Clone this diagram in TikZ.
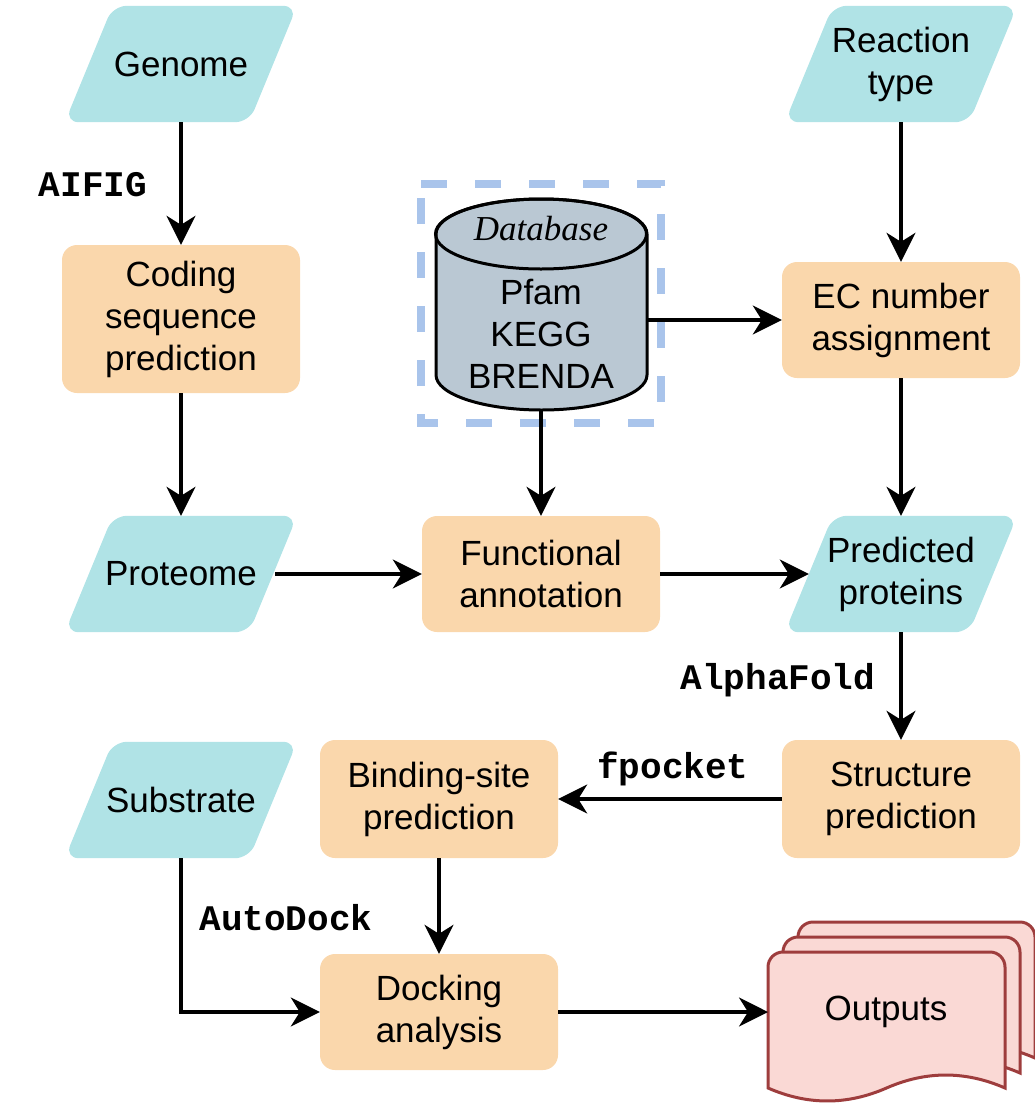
\documentclass[tikz,border=0pt]{standalone}
\usepackage{fontspec}
\setmainfont{Liberation Sans}
\newfontfamily\monob{Liberation Mono}
\newfontfamily\serifit{Liberation Serif}
\usetikzlibrary{arrows.meta,calc,backgrounds}
\definecolor{cyanf}{HTML}{B0E3E6}
\definecolor{orangef}{HTML}{FAD7AC}
\definecolor{dbf}{HTML}{BAC8D3}
\definecolor{dashc}{HTML}{A9C4EB}
\definecolor{outf}{HTML}{FAD9D5}
\definecolor{outd}{HTML}{9E3D3D}
\newcommand\outdoc[2]{%
\filldraw[docst] (#1,#2+136) -- (#1,#2+15) arc[start angle=180,end angle=90,radius=15pt] -- (#1+222,#2) arc[start angle=90,end angle=0,radius=15pt] -- (#1+237,#2+136) .. controls (#1+197.5,#2+118.7) and (#1+158,#2+118.7) .. (#1+118.5,#2+136) .. controls (#1+79,#2+153.3) and (#1+39.5,#2+153.3) .. (#1,#2+136) -- cycle;}
\begin{document}
\begin{tikzpicture}[x=1pt,y=-1pt,
  every node/.style={font=\fontsize{35}{42}\selectfont, align=center, inner sep=0pt},
  proc/.style={fill=orangef, rounded corners=15pt, minimum width=238pt, minimum height=116pt},
  iobox/.style={minimum width=232pt, minimum height=116pt},
  tool/.style={font=\monob\bfseries\fontsize{36}{40}\selectfont},
  conn/.style={line width=3.2pt, -{Stealth[length=29pt,width=29pt,inset=9pt]}},
  docst/.style={fill=outf, draw=outd, line width=3pt},
]
\useasboundingbox (0,0) rectangle (1035,1104);

% input/output parallelograms (text nodes)
\node[iobox] (genome) at (181,64) {Genome};
\node[iobox] (react) at (901,64) {Reaction\\type};
\node[iobox] (proteome) at (181,574) {Proteome};
\node[iobox] (pred) at (901,574) {Predicted\\proteins};
\node[iobox] (substrate) at (181,800) {Substrate};

\begin{scope}[on background layer]
\foreach \n in {genome,react,proteome,pred,substrate}{
  \fill[cyanf, rounded corners=14pt] (\n.south west) -- ($(\n.north west)+(48,0)$) -- (\n.north east) -- ($(\n.south east)+(-48,0)$) -- cycle;
}
\end{scope}

% process boxes
\node[proc, minimum height=148pt] (coding) at (181,319) {Coding\\sequence\\prediction};
\node[proc] (ec) at (901,320) {EC number\\assignment};
\node[proc] (func) at (541,574) {Functional\\annotation};
\node[proc, minimum height=118pt] (struct) at (901,799) {Structure\\prediction};
\node[proc, minimum height=118pt] (bind) at (439,799) {Binding-site\\prediction};
\node[proc] (dock) at (439,1012) {Docking\\analysis};

% database
\draw[dashc, line width=8pt, dash pattern=on 26pt off 28pt] (421,184) -- (661,184) -- (661,423) -- (421,423) -- cycle;
\filldraw[fill=dbf, draw=black, line width=3pt] (436,234) -- (436,375) arc[start angle=180,end angle=360,x radius=105.5pt,y radius=35pt] -- (647,234) arc[start angle=0,end angle=180,x radius=105.5pt,y radius=35pt] -- cycle;
\draw[line width=3pt] (541,234) ellipse[x radius=105.5pt,y radius=35pt];
\node[font=\serifit\itshape\fontsize{35}{42}\selectfont] (dblabel) at (541,229) {Database};
\node (db) at (541,334) {Pfam\\KEGG\\BRENDA};
\coordinate (dbE) at (647,320);
\coordinate (dbS) at (541,410);

% outputs
\outdoc{798}{922}
\outdoc{783}{937}
\outdoc{768}{952}
\node (outputs) at (886,1012) {Outputs};
\coordinate (outW) at (768,1012);

% tool labels
\node[tool] (aifig) at (93,185) {AIFIG};
\node[tool] (alpha) at (778,680) {AlphaFold};
\node[tool] (fpocket) at (673,769) {fpocket};
\node[tool] (autodock) at (286,918) {AutoDock};

% connectors
\draw[conn] (genome) -- (coding);
\draw[conn] (coding) -- (proteome);
\draw[conn] (react) -- (ec);
\draw[conn] (ec) -- (pred);
\draw[conn] (dbE) -- (ec.west);
\draw[conn] (dbS) -- (func.north);
\draw[conn] ($(proteome.east)+(-22,0)$) -- (func.west);
\draw[conn] (func.east) -- ($(pred.west)+(24,0)$);
\draw[conn] (pred) -- (struct);
\draw[conn] (struct.west) -- (bind.east);
\draw[conn] (bind) -- (dock);
\draw[conn] (substrate.south) |- (dock.west);
\draw[conn] (dock.east) -- (outW);
\end{tikzpicture}
\end{document}
